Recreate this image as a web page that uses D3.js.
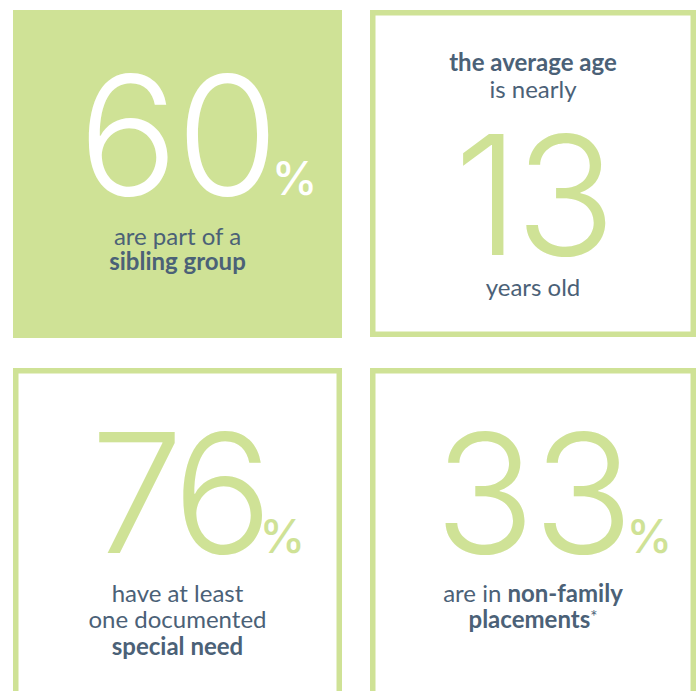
<!DOCTYPE html>
<html>
<head>
<meta charset="utf-8">
<script src="https://cdn.jsdelivr.net/npm/d3@7"></script>
<style>
  html, body { margin: 0; padding: 0; background: #ffffff; }
  svg { display: block; }
</style>
</head>
<body>
<svg id="chart" width="696" height="691"></svg>
<script>
// ---- data ----
const figures = ["60", "13", "76", "33"];
const units = ["%", "", "%", "%"];
const filledPanel = [true, false, false, false];
// caption lines: each line is a list of [text, bold]
const captionsAbove = [
  [],
  [[["the average age", true]], [["is nearly", false]]],
  [],
  []
];
const captionsBelow = [
  [[["are part of a", false]], [["sibling group", true]]],
  [[["years old", false]]],
  [[["have at least", false]], [["one documented", false]], [["special need", true]]],
  [[["are in ", false], ["non-family", true]], [["placements", true], ["*", false]]]
];

// ---- style/layout ----
const green = "#cfe296";
const ink = "#4b6177";
const svg = d3.select("#chart");

const col = d3.scaleOrdinal().domain([0, 1]).range([13, 370]);
const row = d3.scaleOrdinal().domain([0, 1]).range([10, 368]);
const boxW = [329, 326, 329, 326];
const boxH = [328, 327, 340, 340];
const stroke = 5.5;

const numeralBase = [195, 255, 553, 553];   // baseline of big number (absolute y)
const numeralSpacing = [-2, -4, -8, -2];
const aboveBase = [[], [71, 98], [], []];
const belowBase = [[245, 270], [296], [602, 628, 655], [602, 628]];

const panels = svg.selectAll("g.panel")
  .data(figures.map((f, i) => ({ f, i })))
  .join("g").attr("class", "panel");

panels.each(function (d) {
  const g = d3.select(this);
  const i = d.i;
  const x0 = col(i % 2), y0 = row(Math.floor(i / 2));
  const w = boxW[i], h = boxH[i];
  const cx = x0 + w / 2;
  if (filledPanel[i]) {
    g.append("rect").attr("x", x0).attr("y", y0).attr("width", w).attr("height", h)
      .attr("fill", green);
  } else {
    g.append("rect").attr("x", x0 + stroke / 2).attr("y", y0 + stroke / 2)
      .attr("width", w - stroke).attr("height", h - stroke)
      .attr("fill", "none").attr("stroke", green).attr("stroke-width", stroke);
  }
  const numColor = filledPanel[i] ? "#ffffff" : green;
  const num = g.append("text")
    .attr("x", cx).attr("y", numeralBase[i])
    .attr("text-anchor", "middle")
    .attr("font-family", "Inter, sans-serif")
    .attr("font-weight", 300)
    .attr("font-size", 166)
    .attr("letter-spacing", numeralSpacing[i])
    .attr("fill", numColor)
    .text(d.f);
  if (units[i]) {
    const bb = num.node().getBBox();
    g.append("text")
      .attr("x", bb.x + bb.width - 5).attr("y", numeralBase[i])
      .attr("font-family", "Inter, sans-serif")
      .attr("font-weight", 500)
      .attr("font-size", 46)
      .attr("fill", numColor)
      .text(units[i]);
  }
  const drawLines = (lines, bases) => {
    lines.forEach((segs, k) => {
      const t = g.append("text")
        .attr("x", cx).attr("y", bases[k])
        .attr("text-anchor", "middle")
        .attr("font-family", "Lato, sans-serif")
        .attr("font-size", 24)
        .attr("fill", ink);
      segs.forEach(([s, b]) => {
        t.append("tspan").attr("font-weight", b ? 700 : 400)
          .attr("baseline-shift", s === "*" ? "30%" : null)
          .attr("font-size", s === "*" ? 17 : null)
          .text(s);
      });
    });
  };
  drawLines(captionsAbove[i], aboveBase[i]);
  drawLines(captionsBelow[i], belowBase[i]);
});
</script>
</body>
</html>
